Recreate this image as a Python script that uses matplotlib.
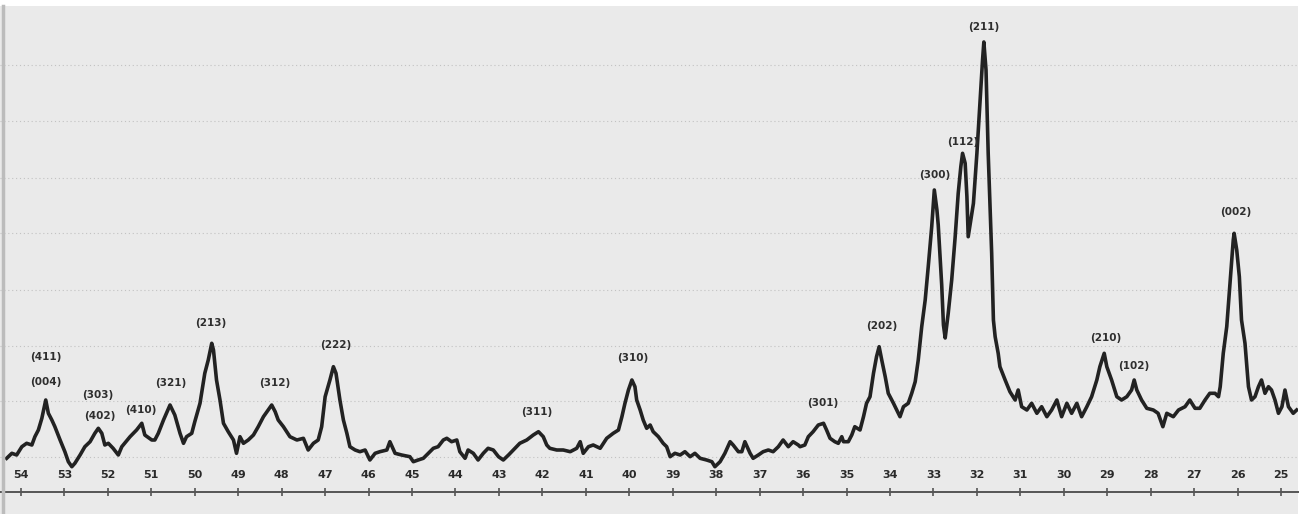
import matplotlib
matplotlib.use("Agg")
import matplotlib.pyplot as plt
from matplotlib.lines import Line2D

# diffractometer trace, 2-theta (deg) vs intensity (arb. units)
two_theta = [
    54.33, 54.21, 54.10, 53.98, 53.87, 53.75, 53.68, 53.60, 53.52, 53.43,
    53.37, 53.29, 53.22, 53.10, 52.99, 52.91, 52.83, 52.76, 52.64, 52.53,
    52.41, 52.30, 52.22, 52.14, 52.07, 51.99, 51.88, 51.76, 51.68, 51.49,
    51.34, 51.22, 51.15, 50.99, 50.92, 50.84, 50.72, 50.57, 50.46, 50.34,
    50.26, 50.19, 50.07, 50.00, 49.88, 49.77, 49.69, 49.61, 49.57, 49.50,
    49.42, 49.34, 49.23, 49.11, 49.04, 48.96, 48.88, 48.77, 48.65, 48.54,
    48.42, 48.31, 48.23, 48.15, 48.08, 47.96, 47.81, 47.65, 47.50, 47.39,
    47.27, 47.16, 47.08, 47.00, 46.89, 46.81, 46.75, 46.66, 46.58, 46.50,
    46.43, 46.31, 46.20, 46.08, 45.97, 45.85, 45.74, 45.58, 45.51, 45.39,
    45.24, 45.05, 44.97, 44.86, 44.74, 44.59, 44.51, 44.40, 44.28, 44.20,
    44.09, 43.97, 43.90, 43.78, 43.71, 43.59, 43.48, 43.36, 43.25, 43.13,
    43.01, 42.90, 42.78, 42.67, 42.52, 42.36, 42.21, 42.09, 41.98, 41.90,
    41.83, 41.67, 41.52, 41.36, 41.21, 41.13, 41.06, 40.94, 40.83, 40.67,
    40.52, 40.37, 40.25, 40.17, 40.10, 40.02, 39.94, 39.87, 39.83, 39.75,
    39.68, 39.60, 39.52, 39.45, 39.33, 39.22, 39.14, 39.06, 38.95, 38.83,
    38.72, 38.60, 38.49, 38.37, 38.22, 38.10, 38.03, 37.91, 37.80, 37.68,
    37.61, 37.49, 37.41, 37.34, 37.22, 37.15, 37.03, 36.92, 36.80, 36.69,
    36.57, 36.46, 36.34, 36.23, 36.11, 36.07, 35.96, 35.88, 35.77, 35.65,
    35.53, 35.46, 35.38, 35.27, 35.19, 35.11, 35.07, 34.96, 34.88, 34.81,
    34.69, 34.61, 34.54, 34.46, 34.38, 34.31, 34.25, 34.19, 34.11, 34.04,
    33.92, 33.81, 33.77, 33.69, 33.58, 33.50, 33.42, 33.35, 33.27, 33.19,
    33.12, 33.04, 32.98, 32.92, 32.89, 32.81, 32.77, 32.73, 32.66, 32.58,
    32.50, 32.43, 32.37, 32.33, 32.27, 32.23, 32.20, 32.14, 32.08, 32.00,
    31.93, 31.87, 31.84, 31.79, 31.74, 31.70, 31.66, 31.62, 31.58, 31.51,
    31.47, 31.35, 31.24, 31.12, 31.05, 30.97, 30.85, 30.74, 30.62, 30.51,
    30.39, 30.28, 30.16, 30.05, 29.93, 29.82, 29.70, 29.59, 29.47, 29.36,
    29.24, 29.17, 29.07, 29.01, 28.90, 28.78, 28.67, 28.55, 28.44, 28.38,
    28.32, 28.21, 28.09, 27.94, 27.83, 27.72, 27.63, 27.48, 27.36, 27.21,
    27.10, 26.98, 26.87, 26.75, 26.64, 26.52, 26.44, 26.40, 26.33, 26.25,
    26.17, 26.10, 26.08, 26.02, 25.96, 25.91, 25.83, 25.75, 25.68, 25.60,
    25.52, 25.45, 25.37, 25.29, 25.22, 25.14, 25.06, 24.98, 24.91, 24.83,
    24.72, 24.64,
]
intensity = [
    33.7, 38.7, 37.0, 45.3, 48.7, 47.0, 55.3, 62.0, 73.7, 92.0,
    78.7, 72.0, 65.3, 52.0, 40.3, 30.3, 25.3, 28.7, 37.0, 45.3,
    50.3, 58.7, 63.7, 58.7, 47.0, 48.7, 43.7, 37.0, 45.3, 55.3,
    62.0, 68.7, 57.0, 52.0, 52.0, 58.7, 72.0, 87.0, 77.0, 58.7,
    48.7, 55.3, 58.7, 70.3, 88.7, 118.7, 132.0, 148.7, 142.0, 112.0,
    92.0, 68.7, 60.3, 52.0, 38.7, 55.3, 48.7, 52.0, 57.0, 65.3,
    75.3, 82.0, 87.0, 80.3, 72.0, 65.3, 55.3, 52.0, 53.7, 42.0,
    48.7, 52.0, 65.3, 95.3, 112.0, 125.3, 118.7, 92.0, 72.0, 58.7,
    45.3, 42.0, 40.3, 42.0, 32.0, 38.7, 40.3, 42.0, 50.3, 38.7,
    37.0, 35.3, 30.3, 32.0, 33.7, 40.3, 43.7, 45.3, 52.0, 53.7,
    50.3, 52.0, 40.3, 33.7, 42.0, 38.7, 32.0, 38.7, 43.7, 42.0,
    35.3, 32.0, 37.0, 42.0, 48.7, 52.0, 57.0, 60.3, 55.3, 47.0,
    43.7, 42.0, 42.0, 40.3, 43.7, 50.3, 38.7, 45.3, 47.0, 43.7,
    53.7, 58.7, 62.0, 75.3, 88.7, 102.0, 112.0, 105.3, 92.0, 82.0,
    72.0, 63.7, 67.0, 60.3, 55.3, 48.7, 45.3, 35.3, 38.7, 37.0,
    40.3, 35.3, 38.7, 33.7, 32.0, 30.3, 25.3, 30.3, 38.7, 50.3,
    47.0, 40.3, 40.3, 50.3, 38.7, 33.7, 37.0, 40.3, 42.0, 40.3,
    45.3, 52.0, 45.3, 50.3, 47.0, 45.3, 47.0, 55.3, 60.3, 67.0,
    68.7, 62.0, 53.7, 50.3, 48.7, 55.3, 50.3, 50.3, 57.0, 65.3,
    62.0, 75.3, 88.7, 95.3, 118.7, 135.3, 145.3, 132.0, 115.3, 98.7,
    88.7, 78.7, 75.3, 85.3, 88.7, 98.7, 110.3, 132.0, 165.3, 192.0,
    225.3, 265.3, 302.0, 282.0, 267.0, 207.0, 167.0, 154.0, 178.7, 212.0,
    255.3, 298.7, 325.3, 338.7, 328.7, 295.3, 255.3, 272.0, 288.7, 338.7,
    388.7, 432.0, 450.0, 422.0, 338.7, 288.7, 238.7, 172.0, 155.3, 138.7,
    125.3, 112.0, 100.3, 92.0, 102.0, 85.3, 82.0, 88.7, 78.7, 85.3,
    75.3, 82.0, 92.0, 75.3, 88.7, 78.7, 88.7, 75.3, 85.3, 95.3,
    112.0, 125.3, 138.7, 125.3, 112.0, 95.3, 92.0, 95.3, 102.0, 112.0,
    102.0, 92.0, 83.7, 82.0, 78.7, 65.3, 78.7, 75.3, 82.0, 85.3,
    92.0, 83.7, 83.7, 92.0, 98.7, 98.7, 95.3, 105.3, 138.7, 165.3,
    212.0, 252.0, 258.7, 242.0, 215.3, 172.0, 148.7, 105.3, 92.0, 95.3,
    105.3, 112.0, 98.7, 105.3, 102.0, 92.0, 78.7, 85.3, 102.0, 85.3,
    78.7, 82.0,
]

# Miller indices written over the reflections
hkl = ["(411)", "(004)", "(303)", "(402)", "(410)", "(321)", "(213)",
       "(312)", "(222)", "(311)", "(310)", "(301)", "(202)", "(300)",
       "(112)", "(211)", "(210)", "(102)", "(002)"]
hkl_theta = [53.42, 53.42, 52.23, 52.18, 51.24, 50.55, 49.63,
             48.17, 46.76, 42.13, 39.91, 35.55, 34.18, 32.98,
             32.33, 31.85, 29.03, 28.38, 26.04]
hkl_height = [135, 110, 97, 76, 82, 109, 169,
              109, 147, 80, 134, 89, 166, 317,
              350, 465, 154, 126, 280]

ticks = list(range(54, 24, -1))
chart_lines = [35, 91, 146, 202, 259, 314, 371, 427]

paper = "#eaeaea"
ink = "#222222"

fig = plt.figure(figsize=(13.03, 5.14), dpi=100, facecolor="white")
ax = fig.add_axes([0.0, 0.0, 1298 / 1303, 508 / 514])
ax.set_facecolor(paper)

ax.plot(two_theta, intensity, color=ink, lw=2.6, solid_joinstyle="round")

for lab, t, h in zip(hkl, hkl_theta, hkl_height):
    ax.text(t, h, lab, ha="center", va="center", fontsize=7.5,
            fontweight="bold", color="#2e2e2e")

ax.set_xlim(54.483, 24.61)
ax.set_ylim(-22, 486)

# faint ruling of the recorder paper
ax.set_yticks(chart_lines)
ax.grid(axis="y", color="#c2c2c2", lw=0.8, linestyle=(0, (1, 2.5)))
ax.tick_params(axis="y", left=False, labelleft=False)

for s in ["left", "right", "top"]:
    ax.spines[s].set_visible(False)
ax.spines["bottom"].set_position(("data", 0))
ax.spines["bottom"].set_color("#555555")
ax.spines["bottom"].set_linewidth(1.4)

ax.set_xticks(ticks)
ax.set_xticklabels([str(t) for t in ticks])
ax.tick_params(axis="x", direction="inout", length=6, width=1.2,
               color="#555555", pad=-19, labelsize=8, labelcolor="#2a2a2a")
for lbl in ax.get_xticklabels():
    lbl.set_fontweight("bold")

fig.add_artist(Line2D([0.0025, 0.0025], [0, 508 / 514], color="#bcbcbc", lw=2.5))

fig.savefig("out.png", dpi=100, facecolor=fig.get_facecolor())
